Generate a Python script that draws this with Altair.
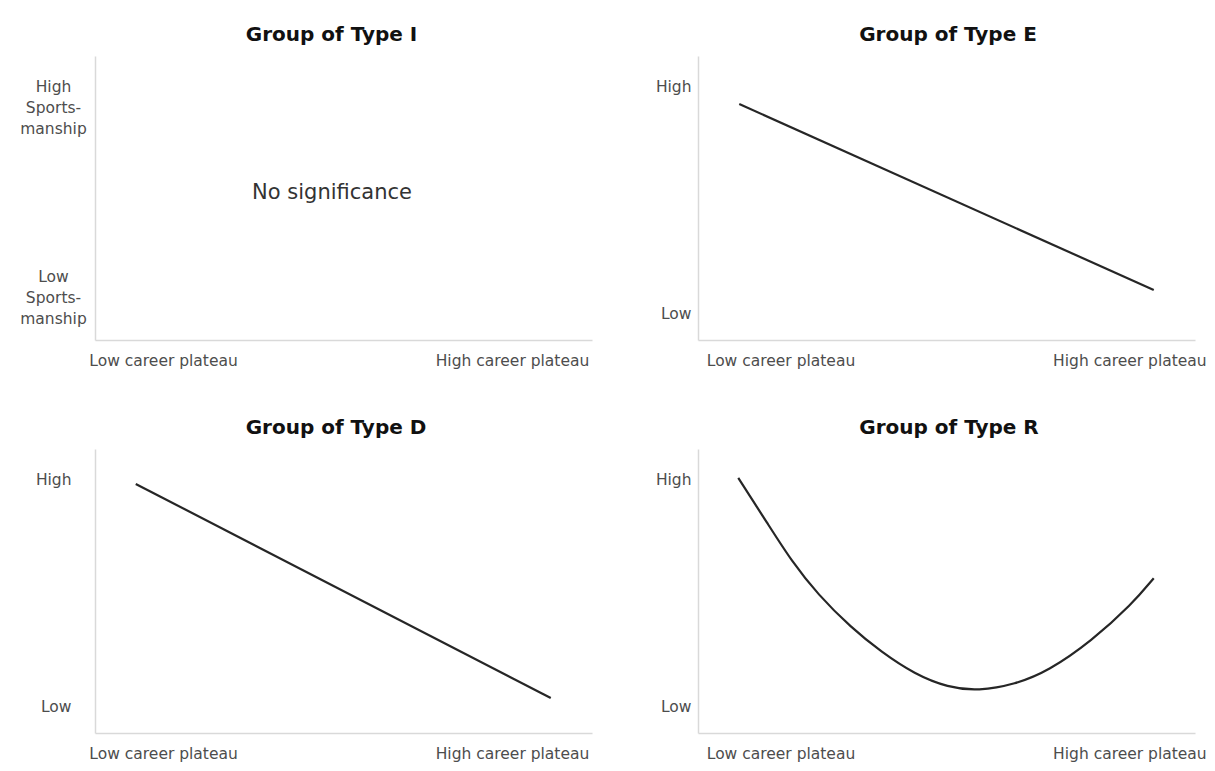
import altair as alt
import pandas as pd

FONT = "DejaVu Sans"
LABEL_COLOR = "#4d4d4d"
AXIS_COLOR = "#d9d9d9"
LINE_COLOR = "#262626"

# ---- data (normalised 0..1 scale) ----
titles = ["Group of Type I", "Group of Type E", "Group of Type D", "Group of Type R"]

# Type I: no line, only an annotation
note_text = ["No significance"]
note_x = [0.477]
note_y = [0.518]

# Type E
e_x = [0.083, 0.917]
e_y = [0.831, 0.176]

# Type D
d_x = [0.082, 0.917]
d_y = [0.877, 0.123]

# Type R
r_x = [0.081, 0.141, 0.188, 0.241, 0.308, 0.369, 0.436, 0.503, 0.564, 0.638,
       0.705, 0.792, 0.873, 0.917]
r_y = [0.898, 0.735, 0.606, 0.488, 0.371, 0.285, 0.207, 0.160, 0.148, 0.171,
       0.218, 0.324, 0.453, 0.545]

# tick positions / labels
x_low_label = "Low career plateau"
x_high_label = "High career plateau"
x_ticks_left = [0.137, 0.839]
x_ticks_right = [0.166, 0.868]
y_ticks_I = [0.225, 0.891]
y_ticks = [0.095, 0.891]
y_labels_I = [["Low", "Sports-", "manship"], ["High", "Sports-", "manship"]]
y_labels = ["Low", "High"]

W, H = 497, 284


def x_enc(ticks):
    return alt.X(
        "x:Q",
        scale=alt.Scale(domain=[0, 1], nice=False, zero=False),
        axis=alt.Axis(
            values=ticks,
            labelExpr=f"datum.value < 0.5 ? '{x_low_label}' : '{x_high_label}'",
            title=None, ticks=False, tickSize=0, grid=False,
            domainColor=AXIS_COLOR, domainWidth=1.5,
            labelFont=FONT, labelFontSize=15.5, labelColor=LABEL_COLOR,
            labelAlign="center", labelBaseline="middle", labelPadding=20,
            labelFlush=False, labelOverlap=False, labelLimit=400,
        ),
    )


def y_enc(ticks, labels, align, pad, line_height=None):
    lab = "datum.value > 0.5 ? " + repr(labels[1]) + " : " + repr(labels[0])
    kw = dict(
        values=ticks, labelExpr=lab,
        title=None, ticks=False, tickSize=0, grid=False,
        domainColor=AXIS_COLOR, domainWidth=1.5,
        labelFont=FONT, labelFontSize=15.5, labelColor=LABEL_COLOR,
        labelAlign=align, labelBaseline="middle", labelPadding=pad,
        labelOverlap=False, labelLimit=300,
    )
    if line_height:
        kw["labelLineHeight"] = line_height
    return alt.Y("y:Q", scale=alt.Scale(domain=[0, 1], nice=False, zero=False),
                 axis=alt.Axis(**kw))


def title(t, dx):
    return alt.TitleParams(
        t, font=FONT, fontSize=20, fontWeight="bold", color="#111111",
        anchor="middle", frame="group", baseline="alphabetic", offset=-5, dx=dx,
    )


# Panel I
df_I = pd.DataFrame({"x": note_x, "y": note_y, "t": note_text})
p1 = alt.Chart(df_I).mark_text(font=FONT, fontSize=21, color="#333333").encode(
    x=x_enc(x_ticks_left),
    y=y_enc(y_ticks_I, y_labels_I, "center", 42, 21),
    text="t:N",
).properties(width=W, height=H, title=title(titles[0], -12))

# Panel E
df_E = pd.DataFrame({"x": e_x, "y": e_y})
p2 = alt.Chart(df_E).mark_line(color=LINE_COLOR, strokeWidth=2.2).encode(
    x=x_enc(x_ticks_right),
    y=y_enc(y_ticks, y_labels, "right", 7),
).properties(width=W, height=H, title=title(titles[1], 1.5))

# Panel D
df_D = pd.DataFrame({"x": d_x, "y": d_y})
p3 = alt.Chart(df_D).mark_line(color=LINE_COLOR, strokeWidth=2.2).encode(
    x=x_enc(x_ticks_left),
    y=y_enc(y_ticks, y_labels, "right", 24),
).properties(width=W, height=H, title=title(titles[2], -7.5))

# Panel R
df_R = pd.DataFrame({"x": r_x, "y": r_y})
p4 = alt.Chart(df_R).mark_line(color=LINE_COLOR, strokeWidth=2.2,
                               interpolate="basis").encode(
    x=x_enc(x_ticks_right),
    y=y_enc(y_ticks, y_labels, "right", 7),
).properties(width=W, height=H, title=title(titles[3], 2.5))

chart = alt.concat(
    p1, p2, p3, p4, columns=2,
    spacing={"row": 109, "column": 106}, bounds="flush",
).properties(
    padding={"left": 11, "top": 17, "right": 0, "bottom": 0},
    background="white",
).configure_view(stroke=None)

chart.save("out.html", embed_options={"renderer": "svg", "actions": False})
